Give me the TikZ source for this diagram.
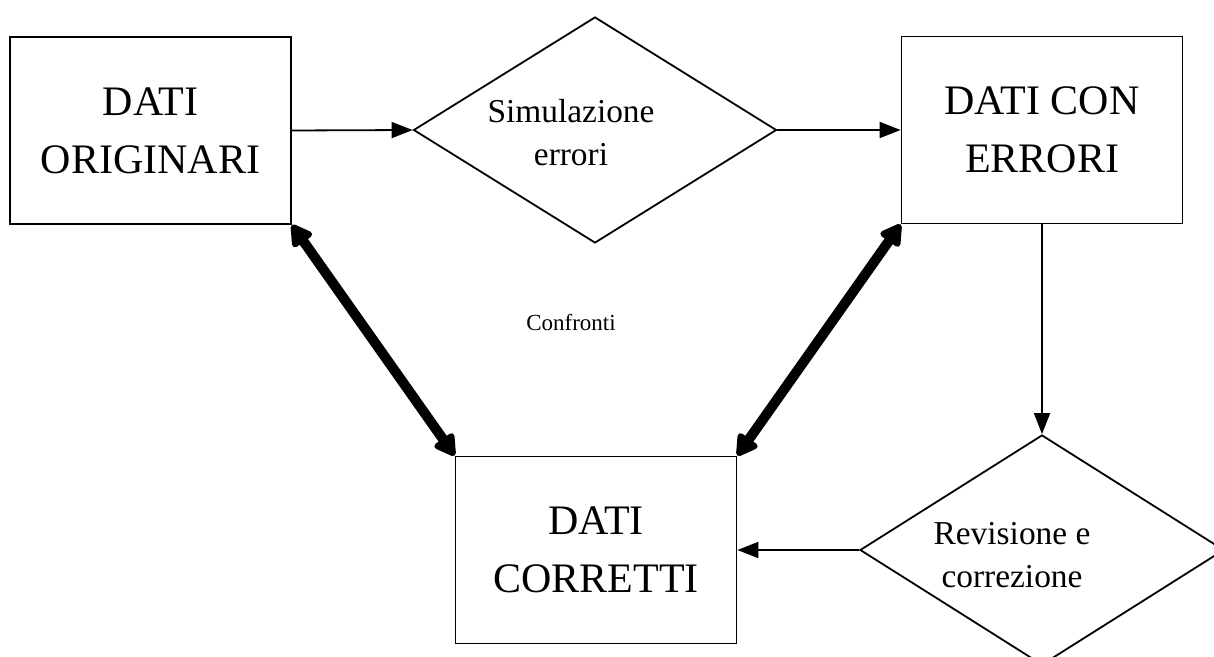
\documentclass[tikz,border=0pt]{standalone}
\usepackage{fontspec}
\setmainfont{Liberation Serif}
\usetikzlibrary{shapes,arrows.meta}

\begin{document}
\begin{tikzpicture}[x=0.5pt,y=-0.5pt]
    \tikzstyle{dati}=[rectangle,draw,line width=0.9pt,minimum width=140.5pt,minimum height=93.5pt,align=center,font=\fontsize{21}{29}\selectfont]
    \tikzstyle{passo}=[diamond,draw,line width=0.9pt,inner sep=0pt]
    \tikzstyle{passotesto}=[align=center,font=\fontsize{16.7}{21.5}\selectfont]
    \tikzstyle{freccia}=[line width=0.9pt,-{Triangle[length=10.5pt,width=8pt]}]
    \tikzstyle{confronto}=[line width=5pt,{Triangle[length=12pt,width=13pt,round]}-{Triangle[length=12pt,width=13pt,round]}]
    \clip (0,0) rectangle (1214,657);
    \node[dati] (originari) at (150.5,130.5) {DATI\\ORIGINARI};
    \node[passo,minimum width=181.5pt,minimum height=113pt] (simulazione) at (595,130) {};
    \node[passotesto] (simtesto) at (571,133) {Simulazione\\errori};
    \node[dati] (errori) at (1042,130) {DATI CON\\ERRORI};
    \node[passo,minimum width=182pt,minimum height=115pt] (revisione) at (1042,550) {};
    \node[passotesto] (revtesto) at (1012,555) {Revisione e\\correzione};
    \node[dati] (corretti) at (596,550) {DATI\\CORRETTI};
    \node[font=\fontsize{11.5}{14}\selectfont] (confronti) at (571,323) {Confronti};
    \draw[freccia] (originari.east) -- (simulazione.west);
    \draw[freccia] (simulazione.east) -- (errori.west);
    \draw[freccia] (errori.south) -- (revisione.north);
    \draw[freccia] (revisione.west) -- (corretti.east);
    \draw[confronto] (originari.south east) -- (corretti.north west);
    \draw[confronto] (errori.south west) -- (corretti.north east);
  \end{tikzpicture}
\end{document}
